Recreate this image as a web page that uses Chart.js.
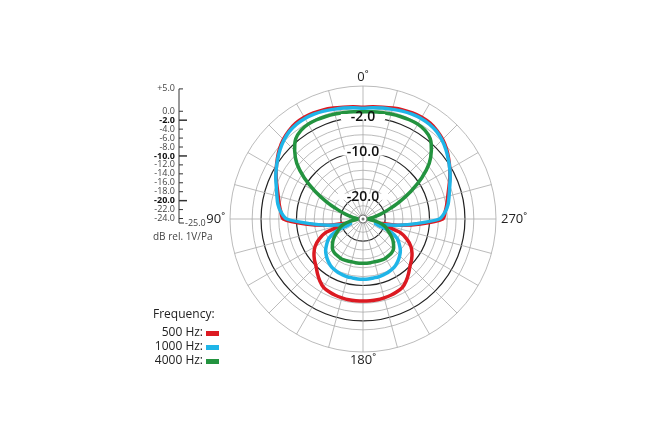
<!DOCTYPE html>
<html>
<head>
<meta charset="utf-8">
<script src="https://cdn.jsdelivr.net/npm/chart.js@4.4.1/dist/chart.umd.min.js"></script>
<style>
  html, body { margin: 0; padding: 0; background: #fff; }
  #wrap { position: relative; width: 672px; height: 440px; }
</style>
</head>
<body>
<div id="wrap"><canvas id="polar" width="672" height="440"></canvas></div>
<script>
// polar pattern, angles 0..180 in 5 deg steps (pattern is symmetric)
const halfAngles = Array.from({length: 37}, (_, i) => i * 5);

const red500 = [0.2, 0.4, 0.6, 0.9, 1.2, 1.4, 1.5, 1.4, 1.0, 0.4, -0.4, -1.4, -2.4, -3.4, -4.4, -5.2, -5.8, -6.4,
  -7.0, -12, -17, -21, -16, -14, -12.5, -11.5, -10.7, -10, -9, -8, -7.2, -6.9, -6.7, -6.6, -6.5, -6.5, -6.5];
const blue1000 = [0, 0.2, 0.4, 0.6, 0.9, 1.1, 1.2, 1.1, 0.8, 0.2, -0.6, -1.5, -2.4, -3.3, -4.2, -4.9, -5.5, -6.4,
  -7.8, -13, -17, -20, -22, -18, -16, -15, -14, -13.3, -12.7, -12.2, -11.9, -11.7, -11.6, -11.5, -11.5, -11.4, -11.4];
const green4000 = [-0.8, -0.7, -0.6, -0.5, -0.4, -0.3, -0.3, -0.6, -1.4, -3.2, -5.5, -8.8, -12.5, -16, -19, -21, -22.5, -23.5,
  -24, -23.5, -22, -20.5, -19.5, -18.8, -17.8, -16.8, -16, -15.3, -15, -14.9, -14.8, -14.8, -14.9, -15, -15, -15, -15];

const ringTicks = [-25, -24, -22, -20, -18, -16, -14, -12, -10, -8, -6, -4, -2, 0, 5];
const boldRings = [-2, -10, -20];
const sideScale = ['+5.0', '0.0', '-2.0', '-4.0', '-6.0', '-8.0', '-10.0', '-12.0', '-14.0', '-16.0', '-18.0', '-20.0', '-22.0', '-24.0'];
const sideValues = [5, 0, -2, -4, -6, -8, -10, -12, -14, -16, -18, -20, -22, -24];
const degreeLabels = ['0˚', '270˚', '180˚', '90˚'];
const legendNames = ['500 Hz:', '1000 Hz:', '4000 Hz:'];
const colors = ['#dc1a22', '#1fb5e8', '#23933f'];

// radar goes clockwise, the picture counter-clockwise; the pattern is symmetric
const labels = Array.from({length: 72}, (_, i) => i * 5);
const full = (half) => labels.map((a) => half[a <= 180 ? a / 5 : (360 - a) / 5]);

const decorations = {
  id: 'decorations',
  afterDraw(chart) {
    const c = chart.ctx;
    const r = chart.scales.r;
    const cx = r.xCenter, cy = r.yCenter, R = r.drawingArea;
    c.save();
    // ring labels on the 0 deg spoke
    c.font = '600 14px "Open Sans"';
    c.textAlign = 'center'; c.textBaseline = 'middle';
    boldRings.forEach((v) => {
      const y = cy - r.getDistanceFromCenterForValue(v);
      const t = v.toFixed(1);
      const w = c.measureText(t).width + 20;
      c.fillStyle = '#fff';
      c.fillRect(cx - w / 2, y - 3, w, 6);
      c.fillStyle = '#111';
      c.fillText(t, cx, y);
    });
    // center marker
    c.strokeStyle = '#777'; c.lineWidth = 1;
    c.fillStyle = '#fff'; c.beginPath(); c.arc(cx, cy, 4, 0, Math.PI * 2); c.fill(); c.stroke();
    c.fillStyle = '#777'; c.beginPath(); c.arc(cx, cy, 1.5, 0, Math.PI * 2); c.fill();

    // degree labels
    c.fillStyle = '#222'; c.font = '13px "Open Sans"';
    c.fillText(degreeLabels[0], cx, cy - R - 9);
    c.fillText(degreeLabels[2], cx, cy + R + 8);
    c.textAlign = 'left'; c.fillText(degreeLabels[1], cx + R + 5, cy);
    c.textAlign = 'right'; c.fillText(degreeLabels[3], cx - R - 5, cy);

    // side dB scale
    const yOf = (v) => 223 - (v + 25) * 4.47;
    const ax = 179;
    c.strokeStyle = '#333'; c.lineWidth = 1;
    c.beginPath(); c.moveTo(ax, yOf(5)); c.lineTo(ax, yOf(-25)); c.lineTo(ax + 5, yOf(-25)); c.stroke();
    c.textAlign = 'right'; c.textBaseline = 'middle';
    sideValues.forEach((v, i) => {
      const bold = boldRings.includes(v);
      c.font = (bold ? 'bold ' : '') + '9px "Open Sans"';
      c.fillStyle = bold ? '#111' : '#444';
      c.fillText(sideScale[i], ax - 4, yOf(v));
      c.lineWidth = bold ? 1.5 : 1;
      c.beginPath(); c.moveTo(ax, yOf(v)); c.lineTo(ax + (bold ? 8 : 4), yOf(v)); c.stroke();
    });
    c.font = '9px "Open Sans"'; c.fillStyle = '#444'; c.textAlign = 'left';
    c.fillText('-25.0', ax + 6, yOf(-25));
    c.font = '10px "Open Sans"';
    c.fillText('dB rel. 1V/Pa', 153, 237);

    // legend
    c.fillStyle = '#222'; c.font = '12px "Open Sans"';
    c.fillText('Frequency:', 153, 315);
    legendNames.forEach((name, i) => {
      const y = 333 + i * 14;
      c.textAlign = 'right'; c.fillStyle = '#222';
      c.fillText(name, 203, y);
      c.fillStyle = colors[i];
      c.fillRect(206, y - 2, 13, 5);
    });
    c.restore();
  },
};

new Chart(document.getElementById('polar'), {
  type: 'radar',
  data: {
    labels,
    datasets: [red500, blue1000, green4000].map((d, i) => ({
      data: full(d),
      borderColor: colors[i],
      borderWidth: 3.5,
      fill: false,
      pointRadius: 0,
      tension: 0.25,
    })).reverse(),
  },
  options: {
    responsive: false,
    animation: false,
    layout: {padding: {left: 230, right: 176, top: 86, bottom: 88}},
    plugins: {legend: {display: false}, tooltip: {enabled: false}},
    scales: {
      r: {
        min: -25,
        max: 5,
        afterBuildTicks: (scale) => {
          scale.ticks = ringTicks.map((value) => ({value}));
        },
        grid: {
          circular: true,
          color: (ctx) => boldRings.includes(ctx.tick.value) ? '#222' : '#aaa',
          lineWidth: (ctx) => boldRings.includes(ctx.tick.value) ? 1.2 : 0.8,
        },
        angleLines: {
          color: (ctx) => ctx.index % 3 === 0 ? '#aaa' : 'rgba(0,0,0,0)',
          lineWidth: 0.8,
        },
        pointLabels: {display: false},
        ticks: {display: false},
      },
    },
  },
  plugins: [decorations],
});
</script>
</body>
</html>
